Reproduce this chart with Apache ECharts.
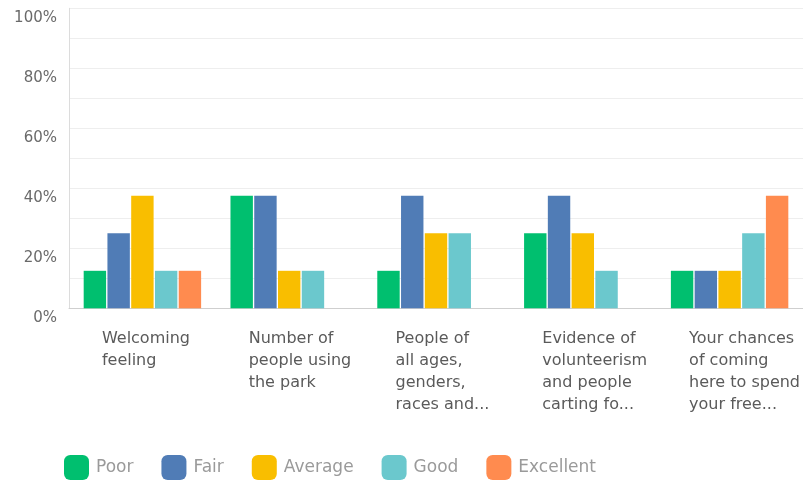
<!DOCTYPE html>
<html>
<head>
<meta charset="utf-8">
<script src="https://cdn.jsdelivr.net/npm/echarts@6/dist/echarts.min.js"></script>
<style>
  html, body { margin: 0; padding: 0; background: #ffffff; }
  #chart { width: 803px; height: 481px; }
</style>
</head>
<body>
<div id="chart"></div>
<script>
// Survey questions (already wrapped the way they are shown under the axis)
const categories = [
  'Welcoming\nfeeling',
  'Number of\npeople using\nthe park',
  'People of\nall ages,\ngenders,\nraces and...',
  'Evidence of\nvolunteerism\nand people\ncarting fo...',
  'Your chances\nof coming\nhere to spend\nyour free...'
];

// Share of responses per rating, in percent
const poor      = [12.5, 37.5, 12.5, 25,   12.5];
const fair      = [25,   37.5, 37.5, 37.5, 12.5];
const average   = [37.5, 12.5, 25,   25,   12.5];
const good      = [12.5, 12.5, 25,   12.5, 25];
const excellent = [12.5, 0,    0,    0,    37.5];

const seriesNames = ['Poor', 'Fair', 'Average', 'Good', 'Excellent'];
const seriesData = [poor, fair, average, good, excellent];
const colors = ['#00bf6f', '#507cb6', '#f9be00', '#6bc8cd', '#ff8b4f'];

// Y axis tick labels (percent)
const yTicks = [0, 20, 40, 60, 80, 100];

const chart = echarts.init(document.getElementById('chart'), null, { renderer: 'canvas' });

const option = {
  animation: false,
  backgroundColor: '#ffffff',
  color: colors,
  textStyle: { fontFamily: 'DejaVu Sans' },
  grid: { left: 69, right: -12, top: 8.3, bottom: 172.7, containLabel: false },
  legend: {
    data: seriesNames,
    left: 64,
    top: 455,
    padding: 0,
    icon: 'roundRect',
    itemWidth: 25,
    itemHeight: 25,
    itemGap: 28,
    itemStyle: { borderWidth: 0 },
    textStyle: { fontSize: 17, color: '#9a9a9a', fontFamily: 'DejaVu Sans', padding: [0, 0, 0, 2] }
  },
  xAxis: {
    type: 'category',
    data: categories,
    axisLine: { show: true, lineStyle: { color: '#cfcfcf', width: 1 } },
    axisTick: { show: false },
    axisLabel: {
      interval: 0,
      margin: 20,
      align: 'center',
      verticalAlign: 'top',
      formatter: function (v) {
        return v.split('\n').map(function (s) { return '{t|' + s + '}'; }).join('\n');
      },
      rich: {
        t: {
          width: 81,
          align: 'left',
          fontSize: 16,
          lineHeight: 22,
          color: '#5a5a5a',
          fontFamily: 'DejaVu Sans'
        }
      }
    }
  },
  yAxis: {
    type: 'value',
    min: yTicks[0],
    max: yTicks[yTicks.length - 1],
    interval: 20,
    axisLine: { show: true, lineStyle: { color: '#dcdcdc', width: 1 } },
    axisTick: { show: false },
    minorTick: { show: false, splitNumber: 2 },
    splitLine: { show: true, lineStyle: { color: '#eeeeee', width: 1 } },
    minorSplitLine: { show: true, lineStyle: { color: '#eeeeee', width: 1 } },
    axisLabel: {
      margin: 12,
      fontSize: 15,
      color: '#6a6a6a',
      fontFamily: 'DejaVu Sans',
      verticalAlign: 'top',
      lineHeight: 20,
      formatter: function (v) { return yTicks.indexOf(v) >= 0 ? v + '%' : ''; }
    }
  },
  series: seriesNames.map(function (name, i) {
    return {
      name: name,
      type: 'bar',
      data: seriesData[i],
      barGap: '6%',
      barCategoryGap: '20%',
      itemStyle: { color: colors[i] },
      emphasis: { disabled: true }
    };
  })
};

chart.setOption(option);
</script>
</body>
</html>
